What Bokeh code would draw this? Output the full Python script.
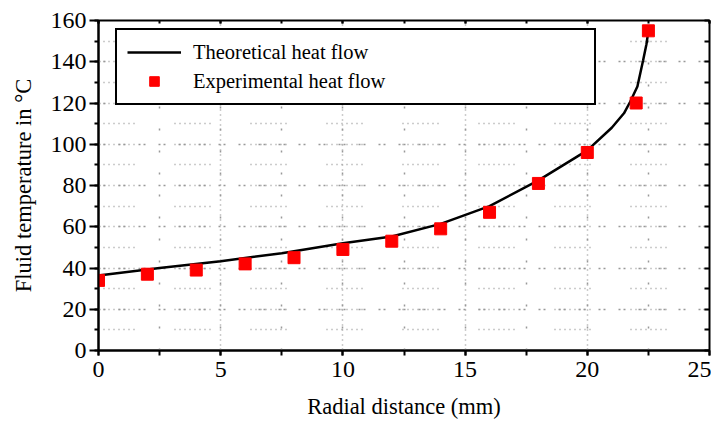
from bokeh.plotting import figure
from bokeh.models import (LinearAxis, SingleIntervalTicker, Legend, LegendItem,
                          CustomJSTickFormatter, Range1d)
from bokeh.embed import file_html
from bokeh.resources import INLINE

# ---- data ----
radial_exp = [0, 2, 4, 6, 8, 10, 12, 14, 16, 18, 20, 22, 22.5]
temp_exp = [34, 37, 39, 42, 45, 49, 53, 59, 67, 81, 96, 120, 155]

radial_theory = [0, 2.5, 5, 7.5, 10, 12, 14, 16, 18, 20, 21, 21.5, 21.75, 22.05, 22.28, 22.42, 22.5]
temp_theory = [36.4, 40, 43.3, 47.2, 52, 55.3, 61.4, 70, 82.5, 97, 108, 115, 120.5, 128, 140.5, 148.5, 155]

x_label = "Radial distance (mm)"
y_label = "Fluid temperature in °C"
series_names = ["Theoretical heat flow", "Experimental heat flow"]

FONT = "Liberation Serif"

p = figure(frame_width=611, frame_height=330,
           x_range=Range1d(0, 25), y_range=Range1d(0, 160),
           output_backend="svg", toolbar_location=None,
           min_border_left=98, min_border_right=2,
           min_border_top=20, min_border_bottom=60,
           x_axis_label=x_label, y_axis_label=y_label)
p.outline_line_color = "black"
p.outline_line_width = 2
p.outline_line_alpha = 1
p.background_fill_color = "white"
p.border_fill_color = "white"

xt = SingleIntervalTicker(interval=5, num_minor_ticks=2)
yt = SingleIntervalTicker(interval=20, num_minor_ticks=2)
p.xaxis.ticker = xt
p.yaxis.ticker = yt
p.xgrid.ticker = xt
p.ygrid.ticker = yt

for ax in (p.xaxis[0], p.yaxis[0]):
    ax.axis_line_width = 2
    ax.axis_line_color = "black"
    ax.major_tick_line_width = 2
    ax.minor_tick_line_width = 2
    ax.major_tick_in = 0
    ax.minor_tick_in = 0
    ax.major_label_text_font = FONT
    ax.major_label_text_font_size = "24px"
    ax.major_label_text_color = "black"
    ax.axis_label_text_font = FONT
    ax.axis_label_text_font_size = "22.5px"
    ax.axis_label_text_font_style = "normal"
    ax.axis_label_text_color = "black"

p.yaxis.major_tick_out = 9
p.yaxis.minor_tick_out = 4
p.yaxis.major_label_standoff = 3
p.yaxis.axis_label_standoff = 12
p.xaxis.major_tick_out = 5
p.xaxis.minor_tick_out = 5
p.xaxis.major_label_standoff = 6
p.xaxis.axis_label_standoff = 14

# top and right axes: inward ticks only
blank = CustomJSTickFormatter(code="return ''")
top = LinearAxis(ticker=xt, formatter=blank, axis_line_color=None,
                 major_tick_in=3, major_tick_out=0, minor_tick_in=3, minor_tick_out=0,
                 major_tick_line_width=2, minor_tick_line_width=2,
                 major_label_standoff=0, major_label_text_font_size="1px")
right = LinearAxis(ticker=SingleIntervalTicker(interval=10, num_minor_ticks=0), formatter=blank,
                   axis_line_color=None,
                   major_tick_in=5, major_tick_out=0, minor_tick_in=0, minor_tick_out=0,
                   major_tick_line_width=2,
                   major_label_standoff=0, major_label_text_font_size="1px")
p.add_layout(top, "above")
p.add_layout(right, "right")

# dotted grid
p.ygrid.grid_line_color = "#999999"
p.ygrid.grid_line_width = 1.5
p.ygrid.grid_line_dash = "2 3 2 13"
p.ygrid.minor_grid_line_color = "#999999"
p.ygrid.minor_grid_line_width = 1.5
p.ygrid.minor_grid_line_dash = "1 4 1 4 1 4 1 4 1 4 1 4 1 4 1 40"
p.xgrid.grid_line_color = "#999999"
p.xgrid.grid_line_width = 1.5
p.xgrid.grid_line_dash = "1 4"
p.xgrid.minor_grid_line_color = "#999999"
p.xgrid.minor_grid_line_width = 1.5
p.xgrid.minor_grid_line_dash = "2 20"

line = p.line(radial_theory, temp_theory, line_color="black", line_width=2.5)
pts = p.scatter(radial_exp, temp_exp, marker="square", size=12,
                fill_color="#ff0000", line_color="#ff0000")

legend = Legend(items=[LegendItem(label=series_names[0], renderers=[line]),
                       LegendItem(label=series_names[1], renderers=[pts])],
                location=(17, 245),
                border_line_color="black", border_line_width=2, border_line_alpha=1,
                background_fill_color="white", background_fill_alpha=1,
                label_text_font=FONT, label_text_font_size="20.5px",
                label_text_color="black",
                glyph_width=54, glyph_height=24, label_height=24,
                label_standoff=12, padding=10, spacing=5, label_width=391)
p.add_layout(legend)

open("out.html", "w").write(file_html(p, INLINE))
